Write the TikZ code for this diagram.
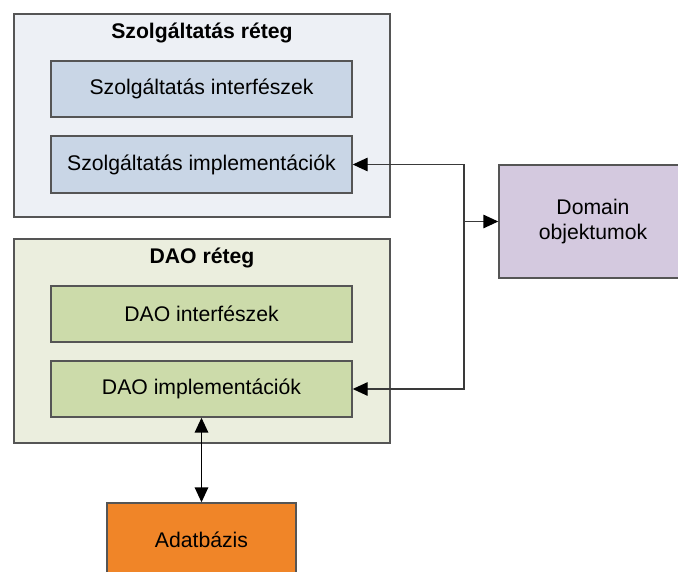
\documentclass[tikz,border=0pt]{standalone}
\usepackage{fontspec}
\setmainfont{Liberation Sans}
\usetikzlibrary{arrows.meta}
\definecolor{borderc}{HTML}{555555}
\definecolor{svcouter}{HTML}{EDF0F5}
\definecolor{svcinner}{HTML}{C9D6E6}
\definecolor{daoouter}{HTML}{EBEEDE}
\definecolor{daoinner}{HTML}{CCDBAA}
\definecolor{domainc}{HTML}{D4C9DF}
\definecolor{dbc}{HTML}{F08528}
\definecolor{linec}{HTML}{3A3A3A}
\tikzset{
  box/.style={draw=borderc, line width=1.4pt, rectangle, inner sep=0pt,
    font=\fontsize{21.2}{25}\selectfont, align=center},
  layer/.style={box},
  title/.style={font=\fontsize{21.2}{25}\selectfont\bfseries, inner sep=0pt},
  link/.style={draw=linec, line width=1.4pt,
    -{Triangle[length=15pt,width=13.5pt,fill=black,color=black]}},
  biglink/.style={draw=black, line width=1.6pt,
    {Triangle[length=15pt,width=13.5pt]}-{Triangle[length=15pt,width=13.5pt]}},
}
\begin{document}
\begin{tikzpicture}[x=1pt,y=-1pt]
\useasboundingbox (0,0) rectangle (678,571);
\clip (0,0) rectangle (678,571);
\fill[white] (0,0) rectangle (678,571);

% service layer
\node[layer, fill=svcouter, minimum width=376pt, minimum height=203pt] (svc) at (202,115.5) {};
\node[title] (svct) at (202,33) {Szolgáltatás réteg};
\node[box, fill=svcinner, minimum width=301pt, minimum height=56pt] (sif) at (201.5,89) {Szolgáltatás interfészek};
\node[box, fill=svcinner, minimum width=301pt, minimum height=57pt] (sim) at (201.5,164.5) {Szolgáltatás implementációk};

% DAO layer
\node[layer, fill=daoouter, minimum width=376pt, minimum height=204pt] (dao) at (202,341) {};
\node[title] (daot) at (202,258) {DAO réteg};
\node[box, fill=daoinner, minimum width=301pt, minimum height=56pt] (dif) at (201.5,314) {DAO interfészek};
\node[box, fill=daoinner, minimum width=301pt, minimum height=56pt] (dim) at (201.5,389) {DAO implementációk};

% domain objects
\node[box, fill=domainc, minimum width=188pt, minimum height=113pt] (dom) at (593,221.5) {Domain\\objektumok};

% database
\node[box, fill=dbc, minimum width=189pt, minimum height=74pt] (db) at (201.5,540) {Adatbázis};

% connectors
\coordinate (j) at (464,221.5);
\draw[link] (j) |- (sim.east);
\draw[link] (j) |- (dim.east);
\draw[link] (j) -- (dom.west);
\draw[biglink] (dim.south) -- (db.north);
\end{tikzpicture}
\end{document}
